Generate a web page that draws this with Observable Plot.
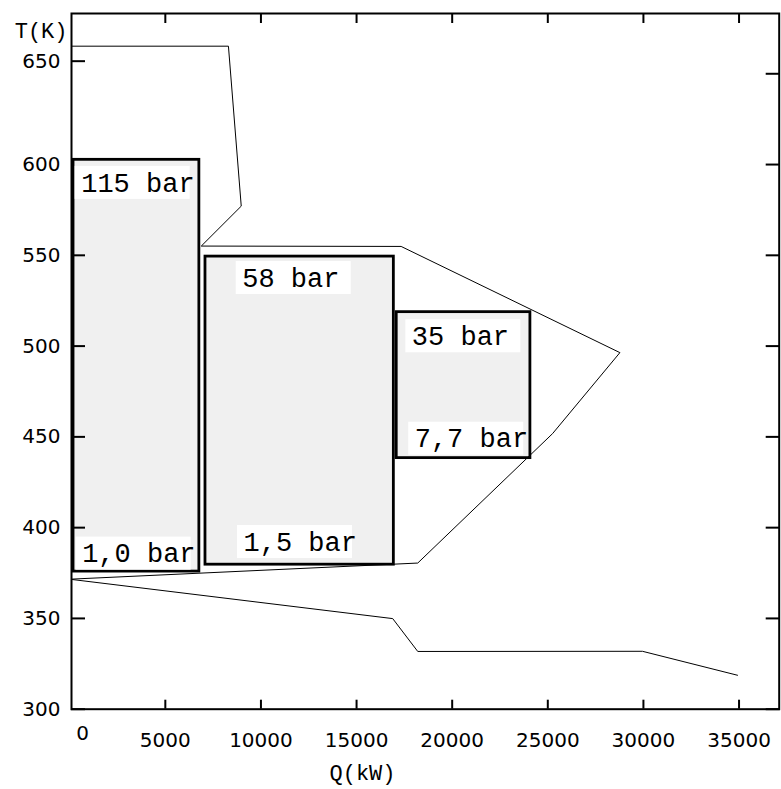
<!DOCTYPE html>
<html>
<head>
<meta charset="utf-8">
<script src="https://cdn.jsdelivr.net/npm/d3@7"></script>
<script src="https://cdn.jsdelivr.net/npm/@observablehq/plot@0.6"></script>
<style>
  html, body { margin: 0; padding: 0; background: #fff; }
  #chart svg { display: block; }
</style>
</head>
<body>
<div id="chart"></div>
<script>
// Upper curve (heat Q in kW, temperature T in K), in drawing order
const upperQ = [0, 8300, 8970, 6880, 17330, 28770, 25250, 18200, 0];
const upperT = [665.2, 665.2, 577.1, 555.1, 554.9, 496.4, 451.8, 380.5, 371.6];
// Lower curve
const lowerQ = [0, 16890, 18200, 29950, 34920];
const lowerT = [371.6, 349.9, 331.8, 331.9, 318.7];
// Pressure-level boxes
const boxQ1 = [200, 7100, 17100];
const boxQ2 = [6780, 16950, 24090];
const boxT1 = [375.8, 379.6, 438.3];
const boxT2 = [602.6, 549.3, 518.7];
// Box labels
const labelText = ["115 bar", "1,0 bar", "58 bar", "1,5 bar", "35 bar", "7,7 bar"];
const labelQ = [600, 650, 9020, 9090, 17890, 18040];
const labelT = [589.9, 385.7, 537.5, 392.1, 505.4, 449.0];
// Axes
const xTicks = [5000, 10000, 15000, 20000, 25000, 30000, 35000];
const yTicks = [300, 350, 400, 450, 500, 550, 600, 650];
const yTicksLeft = [300, 350, 400, 450, 500, 550];
const xTitle = "Q(kW)";
const yTitle = "T(K)";

const upper = upperQ.map((q, i) => ({q, t: upperT[i]}));
const lower = lowerQ.map((q, i) => ({q, t: lowerT[i]}));
const boxes = boxQ1.map((q, i) => ({q1: q, q2: boxQ2[i], t1: boxT1[i], t2: boxT2[i]}));
const labels = labelText.map((s, i) => ({s, q: labelQ[i], t: labelT[i]}));

const tickFont = "DejaVu Sans";
const monoFont = "Liberation Mono";
const fmt = d => String(d);

const plot = Plot.plot({
  width: 781,
  height: 789,
  marginLeft: 71,
  marginRight: 2.3,
  marginTop: 13,
  marginBottom: 80.3,
  x: {domain: [94, 37100], label: null},
  y: {domain: [300, 683.2], label: null},
  style: {fontFamily: tickFont, color: "black", background: "white"},
  marks: [
    Plot.rect(boxes, {x1: "q1", x2: "q2", y1: "t1", y2: "t2", fill: "#f0f0f0", stroke: "black", strokeWidth: 2.8}),
    // inward tick marks
    Plot.axisY(yTicksLeft, {anchor: "left", tickSize: 14, dx: 14, fill: "none", strokeWidth: 2, stroke: "black"}),
    Plot.axisY([650], {anchor: "left", tickSize: 14, dx: 14, dy: -12.6, fill: "none", strokeWidth: 2, stroke: "black"}),
    Plot.axisY(yTicks, {anchor: "right", tickSize: 14, dx: -14, fill: "none", strokeWidth: 2, stroke: "black"}),
    Plot.axisX(xTicks, {anchor: "bottom", tickSize: 9, dy: -9, fill: "none", strokeWidth: 2, stroke: "black"}),
    Plot.axisX(xTicks, {anchor: "top", tickSize: 9, dy: 9, fill: "none", strokeWidth: 2, stroke: "black"}),
    // tick labels
    Plot.axisY(yTicks.filter(d => d !== 650), {anchor: "left", tickSize: 0, tickPadding: 11, tickFormat: fmt, fontSize: 20, fontFamily: tickFont, fill: "black", label: null}),
    Plot.axisY([650], {anchor: "left", tickSize: 0, tickPadding: 11, dy: -12.6, tickFormat: fmt, fontSize: 20, fontFamily: tickFont, fill: "black", label: null}),
    Plot.axisX(xTicks, {anchor: "bottom", tickSize: 0, tickPadding: 24, tickFormat: fmt, fontSize: 20, fontFamily: tickFont, fill: "black", label: null}),
    Plot.text([0], {x: d => d, frameAnchor: "bottom", lineAnchor: "top", dy: 16.5, dx: 13, text: fmt, fontSize: 20, fontFamily: tickFont, fill: "black"}),
    // curves
    Plot.line(upper, {x: "q", y: "t", stroke: "black", strokeWidth: 1, clip: true}),
    Plot.line(lower, {x: "q", y: "t", stroke: "black", strokeWidth: 1, clip: true}),
    // labels
    Plot.text(labels, {x: "q", y: "t", text: "s", textAnchor: "start", lineAnchor: "middle", fontSize: 27, fontFamily: monoFont, fill: "black", ariaDescription: "box-label"}),
    // axis titles
    Plot.text([yTitle], {frameAnchor: "top-left", text: d => d, textAnchor: "end", lineAnchor: "middle", dx: -4, dy: 17, fontSize: 22, fontFamily: monoFont, fill: "black"}),
    Plot.text([xTitle], {frameAnchor: "bottom-left", text: d => d, textAnchor: "start", lineAnchor: "middle", dx: 258, dy: 64, fontSize: 22, fontFamily: monoFont, fill: "black"}),
    Plot.frame({stroke: "black", strokeWidth: 2})
  ]
});

document.getElementById("chart").appendChild(plot);

// white backgrounds behind the box labels, positioned through the plot's scales
const sx = plot.scale("x"), sy = plot.scale("y");
const ns = "http://www.w3.org/2000/svg";
let labelG = plot.querySelector('g[aria-description="box-label"]');
if (!labelG) {
  const groups = Array.from(plot.querySelectorAll('g[aria-label="text"]'));
  labelG = groups.find(g => Array.from(g.querySelectorAll("text")).some(t => t.textContent === labelText[0])) || null;
}
if (labelG) {
  const bg = document.createElementNS(ns, "g");
  labels.forEach(d => {
    const px = sx.apply(d.q), py = sy.apply(d.t);
    const r = document.createElementNS(ns, "rect");
    r.setAttribute("x", px - 6);
    r.setAttribute("y", py - 16.5);
    r.setAttribute("width", 115);
    r.setAttribute("height", 33);
    r.setAttribute("fill", "white");
    bg.appendChild(r);
  });
  labelG.parentNode.insertBefore(bg, labelG);
}
</script>
</body>
</html>
